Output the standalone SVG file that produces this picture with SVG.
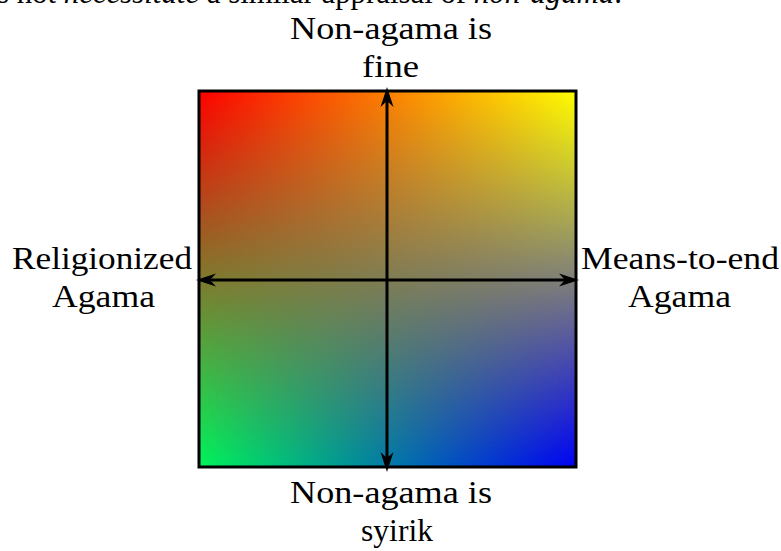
<svg xmlns="http://www.w3.org/2000/svg" width="781" height="551" viewBox="0 0 781 551">
<style>
  text { font-family: "Liberation Serif", "Times New Roman", serif; font-size: 31px; fill: #000; }
  .axis { stroke: #000; stroke-width: 3; fill: none; }
</style>
<defs>
  <linearGradient id="leftEdge" x1="0" y1="0" x2="0" y2="1">
    <stop offset="0" stop-color="#ff0000"/>
    <stop offset="1" stop-color="#00f55a"/>
  </linearGradient>
  <linearGradient id="rightEdge" x1="0" y1="0" x2="0" y2="1">
    <stop offset="0" stop-color="#ffff00"/>
    <stop offset="1" stop-color="#0000f5"/>
  </linearGradient>
  <linearGradient id="fadeH" x1="0" y1="0" x2="1" y2="0">
    <stop offset="0" stop-color="#fff" stop-opacity="0"/>
    <stop offset="1" stop-color="#fff" stop-opacity="1"/>
  </linearGradient>
  <mask id="hmask" maskContentUnits="userSpaceOnUse">
    <rect x="199" y="91" width="377" height="376" fill="url(#fadeH)"/>
  </mask>
  <marker id="head" markerUnits="userSpaceOnUse" markerWidth="26" markerHeight="18" viewBox="-22 -9 26 18" refX="-14" refY="0" orient="auto-start-reverse" overflow="visible">
    <path d="M0,0 L-20,-6.5 L-14,0 L-20,6.5 Z" fill="#000"/>
  </marker>
</defs>
<text x="-3" y="3" textLength="625" lengthAdjust="spacingAndGlyphs">s not <tspan font-style="italic">necessitate</tspan> a similar appraisal of <tspan font-style="italic">non-agama</tspan>.</text>
<g id="square">
  <rect x="199" y="91" width="377" height="376" fill="url(#leftEdge)"/>
  <rect x="199" y="91" width="377" height="376" fill="url(#rightEdge)" mask="url(#hmask)"/>
  <rect x="199" y="91" width="377" height="376" fill="none" stroke="#000" stroke-width="3"/>
</g>
<g id="connectors">
  <line class="axis" x1="387" y1="458" x2="387" y2="101" marker-start="url(#head)" marker-end="url(#head)"/>
  <line class="axis" x1="210" y1="280" x2="565" y2="280" marker-start="url(#head)" marker-end="url(#head)"/>
</g>
<g id="top-label">
  <text x="290" y="39" textLength="202" lengthAdjust="spacingAndGlyphs">Non-agama is</text>
  <text x="362" y="77" textLength="57" lengthAdjust="spacingAndGlyphs">fine</text>
</g>
<g id="left-label">
  <text x="12" y="269" textLength="180" lengthAdjust="spacingAndGlyphs">Religionized</text>
  <text x="52" y="307" textLength="103" lengthAdjust="spacingAndGlyphs">Agama</text>
</g>
<g id="right-label">
  <text x="581" y="269" textLength="198" lengthAdjust="spacingAndGlyphs">Means-to-end</text>
  <text x="628" y="307" textLength="103" lengthAdjust="spacingAndGlyphs">Agama</text>
</g>
<g id="bottom-label">
  <text x="290" y="503" textLength="202" lengthAdjust="spacingAndGlyphs">Non-agama is</text>
  <text x="361" y="541" textLength="72" lengthAdjust="spacingAndGlyphs">syirik</text>
</g>
</svg>
